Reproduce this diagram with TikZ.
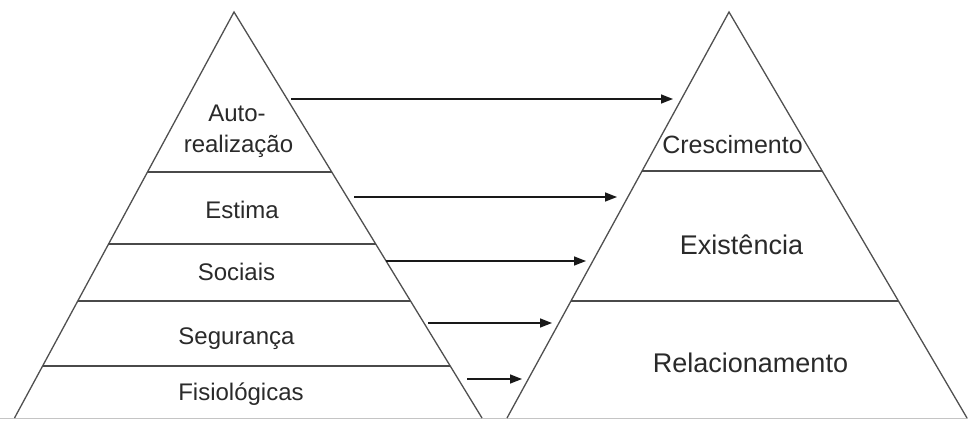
\documentclass[tikz,border=0pt]{standalone}
\usepackage{fontspec}
\setmainfont{Liberation Sans}
\usetikzlibrary{arrows.meta,calc}
\definecolor{edgegray}{HTML}{505050}
\definecolor{sepgray}{HTML}{4A4A4A}
\definecolor{basegray}{HTML}{C4C4C4}
\definecolor{txtgray}{HTML}{2A2A2A}
\tikzset{
  tri/.style={draw=edgegray,line width=1.3pt,line join=miter},
  sepline/.style={draw=sepgray,line width=1.8pt},
  baseline/.style={draw=basegray,line width=1.2pt},
  conn/.style={draw=black!90,line width=1.5pt,-{Triangle[length=12pt,width=9pt]}},
  lbl/.style={anchor=base,inner sep=0pt,text=txtgray,font=\fontsize{24}{28}\selectfont},
  biglbl/.style={anchor=base,inner sep=0pt,text=txtgray,font=\fontsize{27}{31}\selectfont},
}
\begin{document}
\begin{tikzpicture}[x=1pt,y=-1pt]
\useasboundingbox (0,0) rectangle (968,420);
\fill[white] (0,0) rectangle (968,420);
% base line
\coordinate (baseL) at (0,418.5);
\coordinate (baseR) at (968,418.5);
\draw[baseline] (baseL) -- (baseR);
% left pyramid
\coordinate (lapex) at (234,12);
\coordinate (lbl) at (14.5,418);
\coordinate (lbr) at (482,418);
\draw[tri] (lbl) -- (lapex) -- (lbr);
\foreach \y/\n in {171.7/1,244.3/2,300.7/3,365.8/4}{
  \pgfmathsetmacro{\t}{(\y-12)/406}
  \coordinate (ls\n a) at ($(lapex)!\t!(lbl)$);
  \coordinate (ls\n b) at ($(lapex)!\t!(lbr)$);
  \draw[sepline] (ls\n a) -- (ls\n b);
}
% right pyramid
\coordinate (rapex) at (729,12);
\coordinate (rbl) at (507,418);
\coordinate (rbr) at (967,418);
\draw[tri] (rbl) -- (rapex) -- (rbr);
\foreach \y/\n in {171/1,300.8/2}{
  \pgfmathsetmacro{\t}{(\y-12)/406}
  \coordinate (rs\n a) at ($(rapex)!\t!(rbl)$);
  \coordinate (rs\n b) at ($(rapex)!\t!(rbr)$);
  \draw[sepline] (rs\n a) -- (rs\n b);
}
% left labels
\node[lbl] (auto1) at (237,121) {Auto-};
\node[lbl] (auto2) at (238.5,152) {realização};
\node[lbl] (estima) at (242,218) {Estima};
\node[lbl] (sociais) at (236.5,280) {Sociais};
\node[lbl] (seguranca) at (236.5,344) {Segurança};
\node[lbl] (fisio) at (241,400) {Fisiológicas};
% right labels
\node[lbl,font=\fontsize{25}{29}\selectfont] (cresc) at (732.5,153) {Crescimento};
\node[biglbl] (exist) at (741.5,254) {Existência};
\node[biglbl] (relac) at (750.5,372) {Relacionamento};
% connectors
\coordinate (a1s) at (291,99);  \coordinate (a1e) at (673,99);
\coordinate (a2s) at (354,197); \coordinate (a2e) at (617,197);
\coordinate (a3s) at (386,261); \coordinate (a3e) at (586,261);
\coordinate (a4s) at (428,323); \coordinate (a4e) at (552,323);
\coordinate (a5s) at (467,379); \coordinate (a5e) at (522,379);
\draw[conn] (a1s) -- (a1e);
\draw[conn] (a2s) -- (a2e);
\draw[conn] (a3s) -- (a3e);
\draw[conn] (a4s) -- (a4e);
\draw[conn] (a5s) -- (a5e);
\end{tikzpicture}
\end{document}
